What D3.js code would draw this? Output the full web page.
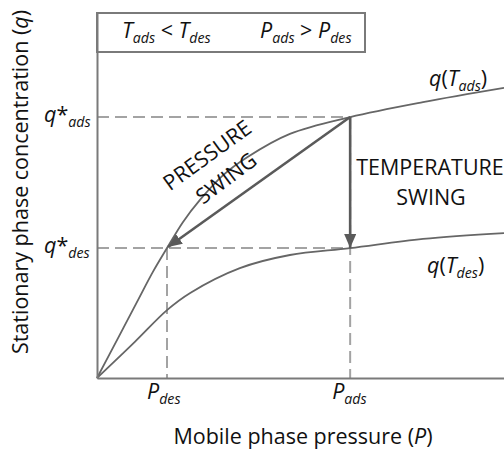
<!DOCTYPE html>
<html>
<head>
<meta charset="utf-8">
<script src="https://cdn.jsdelivr.net/npm/d3@7"></script>
<style>
  html, body { margin: 0; padding: 0; background: #fff; }
  svg { display: block; font-family: "Open Sans", sans-serif; }
</style>
</head>
<body>
<svg id="chart" width="504" height="449"></svg>
<script>
// Mobile-phase pressure (arbitrary units, 0–100)
const pressure = [0, 5.2, 10.1, 13.8, 17.2, 21.1, 25.3, 31.0, 36.9, 47.4, 62.2, 80.1, 100];
// Isotherm at the adsorption temperature, q(T_ads)
const qAds = [0, 11.0, 21.4, 29.2, 35.6, 42.7, 48.8, 55.6, 60.5, 66.9, 71.5, 75.6, 79.5];

// Isotherm at the desorption temperature, q(T_des)
const pressureDes = [0, 9.3, 17.2, 22.9, 35.1, 47.4, 62.2, 80.1, 100];
const qDes = [0, 9.9, 18.6, 23.3, 30.1, 33.7, 35.6, 38.1, 39.7];

// Operating points
const P_des = 17.2, P_ads = 62.2;
const qStarDes = 35.6, qStarAds = 71.5;

const svg = d3.select("#chart");
const plotLeft = 97, plotRight = 504, plotTop = 13, plotBottom = 378;

const x = d3.scaleLinear().domain([0, 100]).range([plotLeft, plotRight]);
const y = d3.scaleLinear().domain([0, 100]).range([plotBottom, plotTop]);

const axisColor = "#7a7a7a";
const curveColor = "#666";
const dashColor = "#a3a3a3";
const arrowColor = "#5a5a5a";
const textColor = "#111";

// Arrow heads
const defs = svg.append("defs");
defs.append("marker")
  .attr("id", "head")
  .attr("viewBox", "0 0 14 12")
  .attr("refX", 14).attr("refY", 6)
  .attr("markerWidth", 14).attr("markerHeight", 12)
  .attr("markerUnits", "userSpaceOnUse")
  .attr("orient", "auto")
  .append("path")
  .attr("d", "M0,0 L14,6 L0,12 Z")
  .attr("fill", arrowColor);

// Guide lines to the operating points
const guides = svg.append("g")
  .attr("stroke", dashColor)
  .attr("stroke-width", 2)
  .attr("stroke-dasharray", "12,6")
  .attr("fill", "none");
guides.append("line")
  .attr("x1", x(0)).attr("x2", x(P_ads))
  .attr("y1", y(qStarAds)).attr("y2", y(qStarAds));
guides.append("line")
  .attr("x1", x(0)).attr("x2", x(P_ads))
  .attr("y1", y(qStarDes)).attr("y2", y(qStarDes));
guides.append("line")
  .attr("x1", x(P_des)).attr("x2", x(P_des))
  .attr("y1", y(qStarDes)).attr("y2", y(0));
guides.append("line")
  .attr("x1", x(P_ads)).attr("x2", x(P_ads))
  .attr("y1", y(qStarAds)).attr("y2", y(0));

// Isotherms
const line = d3.line()
  .x(d => x(d[0]))
  .y(d => y(d[1]))
  .curve(d3.curveCatmullRom.alpha(0.5));

svg.append("path")
  .datum(d3.zip(pressure, qAds))
  .attr("d", line)
  .attr("fill", "none")
  .attr("stroke", curveColor)
  .attr("stroke-width", 1.8);

svg.append("path")
  .datum(d3.zip(pressureDes, qDes))
  .attr("d", line)
  .attr("fill", "none")
  .attr("stroke", curveColor)
  .attr("stroke-width", 1.8);

// Axes (plain lines, no numeric ticks)
svg.append("g")
  .attr("transform", `translate(0,${plotBottom})`)
  .call(d3.axisBottom(x).tickValues([]).tickSizeOuter(0))
  .call(g => g.select(".domain").attr("stroke", axisColor).attr("stroke-width", 2));
svg.append("g")
  .attr("transform", `translate(${plotLeft},0)`)
  .call(d3.axisLeft(y).tickValues([]).tickSizeOuter(0))
  .call(g => g.select(".domain").attr("stroke", axisColor).attr("stroke-width", 2));

// Swing arrows
svg.append("line")
  .attr("x1", x(P_ads)).attr("y1", y(qStarAds))
  .attr("x2", x(P_des) + 1).attr("y2", y(qStarDes) - 1)
  .attr("stroke", arrowColor).attr("stroke-width", 2.6)
  .attr("marker-end", "url(#head)");
svg.append("line")
  .attr("x1", x(P_ads)).attr("y1", y(qStarAds))
  .attr("x2", x(P_ads)).attr("y2", y(qStarDes))
  .attr("stroke", arrowColor).attr("stroke-width", 2.6)
  .attr("marker-end", "url(#head)");

// Header box with the operating conditions
svg.append("rect")
  .attr("x", plotLeft).attr("y", plotTop)
  .attr("width", 268).attr("height", 39)
  .attr("fill", "none")
  .attr("stroke", axisColor).attr("stroke-width", 2);

// Rich text helper: parts are [text, italic, subscript]
function rich(g, px, py, parts, size, anchor) {
  const t = g.append("text")
    .attr("x", px).attr("y", py)
    .attr("fill", textColor)
    .attr("font-size", size)
    .attr("text-anchor", anchor || "start");
  let shifted = false;
  parts.forEach(([s, it, sub]) => {
    const ts = t.append("tspan").text(s)
      .attr("font-style", it ? "italic" : "normal");
    if (sub && !shifted) { ts.attr("dy", 5).attr("font-size", size * 0.66); shifted = true; }
    else if (sub) { ts.attr("font-size", size * 0.66); }
    else if (shifted) { ts.attr("dy", -5); shifted = false; }
  });
  return t;
}

const fs = 21.5;
rich(svg, 122, 38, [["T", true], ["ads", true, true], [" < ", false], ["T", true], ["des", true, true]], fs);
rich(svg, 260, 38, [["P", true], ["ads", true, true], [" > ", false], ["P", true], ["des", true, true]], fs);

// Curve labels
rich(svg, 429, 86, [["q", true], ["(", false], ["T", true], ["ads", true, true], [")", false]], fs);
rich(svg, 427, 273, [["q", true], ["(", false], ["T", true], ["des", true, true], [")", false]], fs);

// Axis value labels
rich(svg, 44, y(qStarAds) + 5, [["q", true], ["*", false], ["ads", true, true]], fs);
rich(svg, 44, y(qStarDes) + 5, [["q", true], ["*", false], ["des", true, true]], fs);
rich(svg, x(P_des) - 20, 399, [["P", true], ["des", true, true]], fs);
rich(svg, x(P_ads) - 18, 399, [["P", true], ["ads", true, true]], fs);

// Axis titles
rich(svg, 303, 444, [["Mobile phase pressure (", false], ["P", true], [")", false]], fs, "middle");
rich(svg.append("g").attr("transform", "translate(28,182) rotate(-90)"), 0, 0,
  [["Stationary phase concentration (", false], ["q", true], [")", false]], fs, "middle");

// Swing annotations
svg.append("text")
  .attr("transform", "translate(207,155) rotate(-36)")
  .attr("text-anchor", "middle").attr("dy", "0.36em")
  .attr("font-size", fs).attr("fill", textColor)
  .text("PRESSURE");
svg.append("text")
  .attr("transform", "translate(226,178) rotate(-37)")
  .attr("text-anchor", "middle").attr("dy", "0.36em")
  .attr("font-size", fs).attr("fill", textColor)
  .text("SWING");
svg.append("text")
  .attr("x", 430).attr("y", 175)
  .attr("text-anchor", "middle")
  .attr("font-size", fs).attr("fill", textColor)
  .text("TEMPERATURE");
svg.append("text")
  .attr("x", 431).attr("y", 205)
  .attr("text-anchor", "middle")
  .attr("font-size", fs).attr("fill", textColor)
  .text("SWING");
</script>
</body>
</html>
